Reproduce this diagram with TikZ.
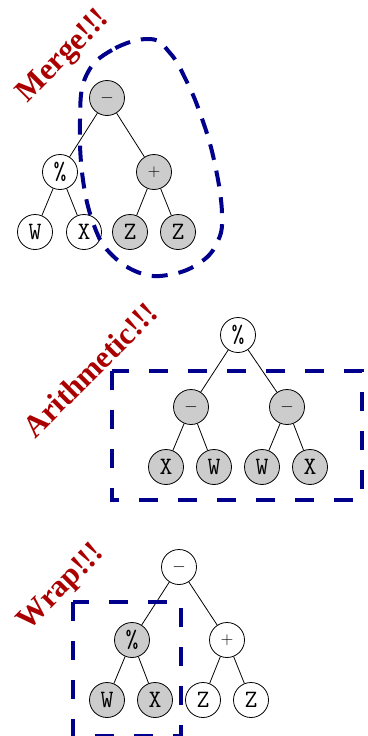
\documentclass[tikz,border=0pt]{standalone}
\usepackage{fontspec}
\newfontfamily\labelfont{Liberation Serif}
\definecolor{callred}{RGB}{170,0,0}
\definecolor{boxblue}{RGB}{0,0,140}
\definecolor{hlgray}{RGB}{204,204,204}
% operator symbols set a little smaller than the leaf letters
\newcommand{\opminus}{{\fontsize{16}{18}\selectfont$-$}}
\newcommand{\opplus}{{\fontsize{16}{18}\selectfont$+$}}
\begin{document}
\begin{tikzpicture}[x=1pt,y=-1pt,
  tnode/.style={circle,draw=black,line width=0.8pt,fill=white,minimum size=35pt,inner sep=0pt,
    font=\ttfamily\fontsize{25}{27}\selectfont},
  hl/.style={tnode,fill=hlgray},
  edge/.style={line width=0.8pt},
  callout/.style={text=callred,font=\labelfont\bfseries\fontsize{31}{34}\selectfont,rotate=45,inner sep=0pt},
  region/.style={draw=boxblue,line width=4pt,dash pattern=on 19pt off 20pt},
  blob/.style={draw=boxblue,line width=4pt,dash pattern=on 16pt off 11pt}]
\useasboundingbox (0,0) rectangle (367,736);

% ---- Merge ----
\node[hl]    (m0)  at (107,98)  {\opminus};
\node[tnode] (m1)  at (60,172)  {\%};
\node[hl]    (m2)  at (154,172) {\opplus};
\node[tnode] (m11) at (35,232)  {W};
\node[tnode] (m12) at (84,232)  {X};
\node[hl]    (m21) at (130,232) {Z};
\node[hl]    (m22) at (178,232) {Z};
\draw[edge] (m0) -- (m1);
\draw[edge] (m0) -- (m2);
\draw[edge] (m1) -- (m11);
\draw[edge] (m1) -- (m12);
\draw[edge] (m2) -- (m21);
\draw[edge] (m2) -- (m22);
\draw[blob] plot[smooth cycle,tension=0.7] coordinates
  {(150,39) (112,50) (86,76) (80,120) (83,180) (95,228) (112,255) (140,273) (168,275)
   (198,264) (217,243) (222,213) (214,160) (200,113) (185,78) (170,53)};
\node[callout] (merge) at (64,57) {Merge!!!};

% ---- Arithmetic ----
\node[tnode] (a0)  at (238,335) {\%};
\node[hl]    (a1)  at (191,407) {\opminus};
\node[hl]    (a2)  at (287,407) {\opminus};
\node[hl]    (a11) at (166,467) {X};
\node[hl]    (a12) at (214,467) {W};
\node[hl]    (a21) at (262,467) {W};
\node[hl]    (a22) at (310,467) {X};
\draw[edge] (a0) -- (a1);
\draw[edge] (a0) -- (a2);
\draw[edge] (a1) -- (a11);
\draw[edge] (a1) -- (a12);
\draw[edge] (a2) -- (a21);
\draw[edge] (a2) -- (a22);
\draw[region] (112,371) rectangle (362,500);
\node[callout] (arith) at (90,370) {Arithmetic!!!};

% ---- Wrap ----
\node[tnode] (w0)  at (179,567) {\opminus};
\node[hl]    (w1)  at (132,640) {\%};
\node[tnode] (w2)  at (227,640) {\opplus};
\node[hl]    (w11) at (107,700) {W};
\node[hl]    (w12) at (155,700) {X};
\node[tnode] (w21) at (203,700) {Z};
\node[tnode] (w22) at (251,700) {Z};
\draw[edge] (w0) -- (w1);
\draw[edge] (w0) -- (w2);
\draw[edge] (w1) -- (w11);
\draw[edge] (w1) -- (w12);
\draw[edge] (w2) -- (w21);
\draw[edge] (w2) -- (w22);
\draw[region] (73,602) rectangle (181,736);
\node[callout] (wrap) at (62,588) {Wrap!!!};
\end{tikzpicture}
\end{document}
